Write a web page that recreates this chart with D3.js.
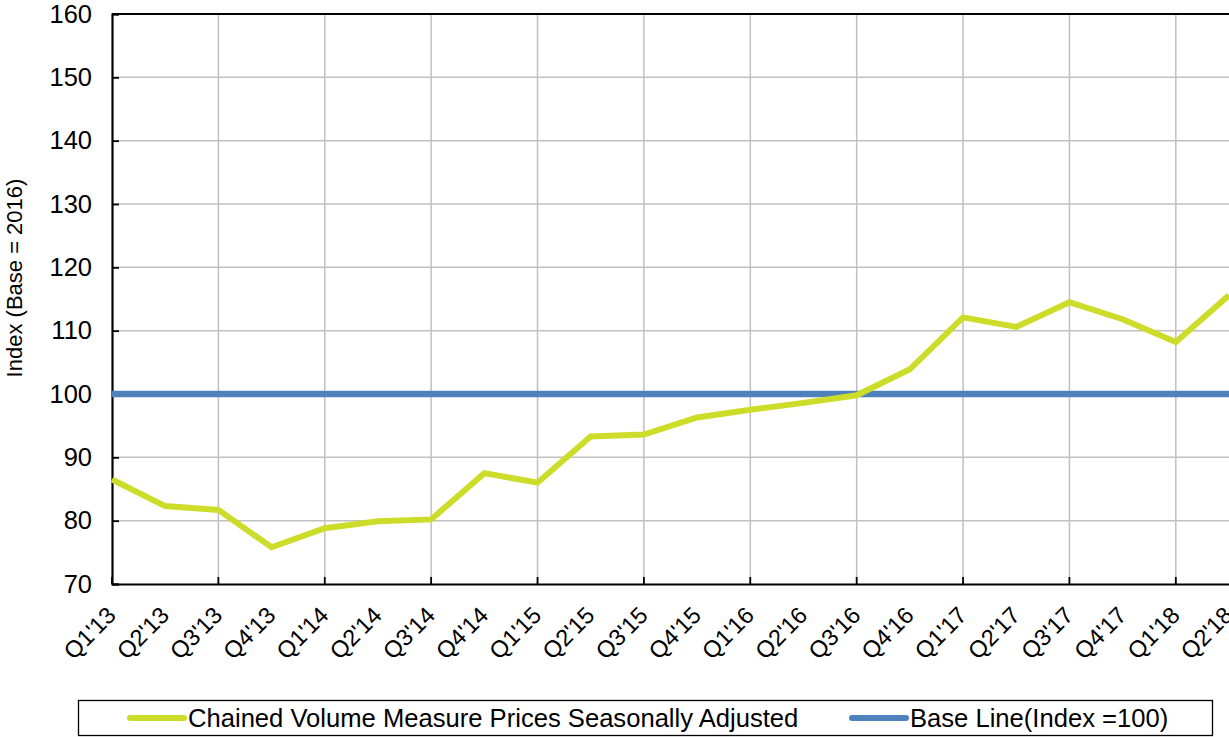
<!DOCTYPE html>
<html><head><meta charset="utf-8">
<script src="https://cdn.jsdelivr.net/npm/d3@7/dist/d3.min.js"></script>
<style>body{margin:0;background:#fff}svg{display:block;font-family:"Liberation Sans",Arial,sans-serif}</style>
</head><body><svg id="c" width="1229" height="737"></svg>
<script>
const categories = ["Q1'13","Q2'13","Q3'13","Q4'13","Q1'14","Q2'14","Q3'14","Q4'14","Q1'15","Q2'15","Q3'15","Q4'15","Q1'16","Q2'16","Q3'16","Q4'16","Q1'17","Q2'17","Q3'17","Q4'17","Q1'18","Q2'18"];
const cvmValues = [86.5,82.3,81.7,75.8,78.8,79.9,80.2,87.5,86.0,93.3,93.6,96.3,97.5,98.6,99.8,103.9,112.1,110.6,114.5,111.8,108.2,115.6];
const baseValues = categories.map(() => 100);
const yTicks = [70,80,90,100,110,120,130,140,150,160];
const seriesNames = ["Chained Volume Measure Prices Seasonally Adjusted","Base Line(Index =100)"];
const seriesColors = ["#cddc29","#4f81bd"];
const yTitle = "Index (Base = 2016)";

const svg = d3.select("#c");
const L = 112, R = 1229, T = 14, B = 584;
const x = d3.scalePoint().domain(categories).range([L, R]);
const y = d3.scaleLinear().domain([70,160]).range([B, T]);

// horizontal gridlines
svg.append("g").selectAll("line").data(yTicks.filter(v => v > 70 && v < 160)).join("line")
  .attr("x1", L).attr("x2", R).attr("y1", d => y(d)).attr("y2", d => y(d))
  .attr("stroke", "#c0c0c0").attr("stroke-width", 1.5);
// vertical gridlines (every second category)
const gridCats = categories.filter((c, i) => i % 2 === 0 && i > 0);
svg.append("g").selectAll("line").data(gridCats).join("line")
  .attr("x1", d => x(d)).attr("x2", d => x(d)).attr("y1", T).attr("y2", B)
  .attr("stroke", "#c0c0c0").attr("stroke-width", 1.5);

// y axis
const yAxis = d3.axisLeft(y).tickValues(yTicks).tickSize(-7).tickFormat(d3.format("d"));
const gy = svg.append("g").attr("transform", `translate(${L},0)`).call(yAxis);
gy.select(".domain").attr("stroke", "#000").attr("stroke-width", 2.2);
gy.selectAll(".tick line").attr("stroke", "#000").attr("stroke-width", 1.8);
gy.selectAll(".tick text").attr("font-size", 25.5).attr("fill", "#000").attr("font-family", "Liberation Sans, Arial, sans-serif").attr("x", -20);

// x axis
const xAxis = d3.axisBottom(x).tickSize(0).tickFormat(d => d);
const gx = svg.append("g").attr("transform", `translate(0,${B})`).call(xAxis);
gx.select(".domain").attr("stroke", "#000").attr("stroke-width", 2.2);
gx.selectAll(".tick text").attr("font-size", 23.5).attr("fill", "#000")
  .attr("font-family", "Liberation Sans, Arial, sans-serif")
  .attr("text-anchor", "end").attr("y", 0).attr("dy", "0.35em")
  .attr("transform", "translate(-1,27) rotate(-45)");
// inward ticks at gridlines
svg.append("g").selectAll("line").data(categories.filter((c, i) => i % 2 === 0)).join("line")
  .attr("x1", d => x(d)).attr("x2", d => x(d)).attr("y1", B).attr("y2", B - 7)
  .attr("stroke", "#000").attr("stroke-width", 1.8);
// top border
svg.append("line").attr("x1", L).attr("x2", R).attr("y1", T).attr("y2", T).attr("stroke", "#000").attr("stroke-width", 2);

// y title
svg.append("text").attr("transform", "translate(22,278) rotate(-90)")
  .attr("text-anchor", "middle").attr("font-size", 22).attr("fill", "#000").text(yTitle);

// lines
const line = d3.line().x((d, i) => x(categories[i])).y(d => y(d));
svg.append("path").datum(baseValues).attr("d", line).attr("fill", "none")
  .attr("stroke", seriesColors[1]).attr("stroke-width", 6.5);
svg.append("path").datum(cvmValues).attr("d", line).attr("fill", "none")
  .attr("stroke", seriesColors[0]).attr("stroke-width", 6).attr("stroke-linejoin", "miter");

// legend
const lg = svg.append("g");
lg.append("rect").attr("x", 78.5).attr("y", 700.5).attr("width", 1134).attr("height", 35)
  .attr("fill", "#fff").attr("stroke", "#000").attr("stroke-width", 1.3);
const legX = [130, 852];
seriesNames.forEach((n, i) => {
  lg.append("line").attr("x1", legX[i]).attr("x2", legX[i] + 54).attr("y1", 718).attr("y2", 718)
    .attr("stroke", seriesColors[i]).attr("stroke-width", 6).attr("stroke-linecap", "round");
  lg.append("text").attr("x", legX[i] + 58).attr("y", 718).attr("dy", "0.35em")
    .attr("font-size", 25.6).attr("fill", "#000").text(n);
});
</script></body></html>
